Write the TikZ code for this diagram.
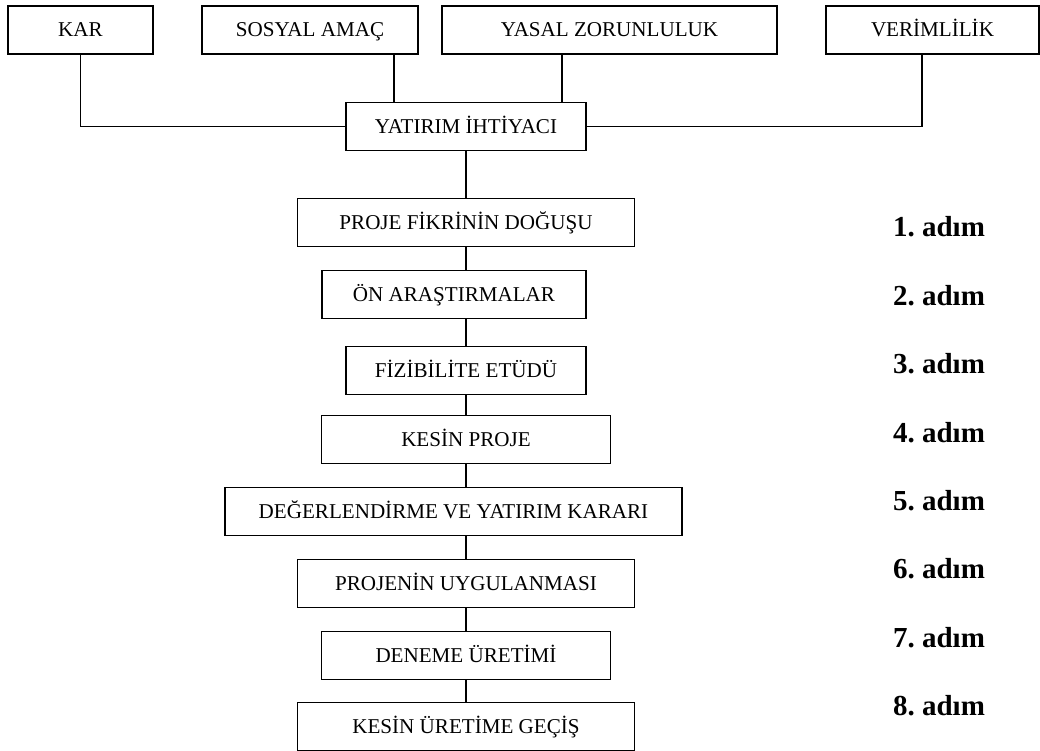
\documentclass[tikz,border=0pt]{standalone}
\usepackage{fontspec}
\setmainfont{Liberation Serif}
\usepackage{tikz}
\usetikzlibrary{positioning}
\frenchspacing

\begin{document}
\begin{tikzpicture}[
  box/.style={draw=black, line width=0.8pt, align=center, minimum height=9.6mm,
              inner sep=1mm, outer sep=0pt, text height=9.9pt, text depth=2pt,
              font=\fontsize{12}{14}\selectfont},
  stepnum/.style={font=\fontsize{16.5}{18}\selectfont\bfseries, inner sep=0pt},
  link/.style={line width=0.8pt, draw=black}
]
\useasboundingbox (0,0) rectangle (208mm,-150.2mm);
% sources of the need
\node[box, minimum width=29mm] (kar) at (16.1mm,-6mm) {KAR};
\node[box, minimum width=43.2mm] (sosyal) at (62mm,-6mm) {SOSYAL AMAÇ};
\node[box, minimum width=67mm] (yasal) at (121.9mm,-6mm) {YASAL ZORUNLULUK};
\node[box, minimum width=42.6mm] (verim) at (186.5mm,-6mm) {VERİMLİLİK};
\node[box, minimum width=48mm] (ihtiyac) at (93.2mm,-25.3mm) {YATIRIM İHTİYACI};
% steps
\node[box, minimum width=67.4mm, below=9.6mm of ihtiyac] (fikir) {PROJE FİKRİNİN DOĞUŞU};
\node[box, minimum width=52.8mm, below=4.8mm of fikir, xshift=-2.4mm] (on) {ÖN ARAŞTIRMALAR};
\node[box, minimum width=48mm, below=5.6mm of on, xshift=2.4mm] (fiz) {FİZİBİLİTE ETÜDÜ};
\node[box, minimum width=57.8mm, below=4.2mm of fiz] (kesin) {KESİN PROJE};
\node[box, minimum width=91.4mm, below=4.8mm of kesin, xshift=-2.5mm] (deger) {DEĞERLENDİRME VE YATIRIM KARARI};
\node[box, minimum width=67.4mm, below=4.8mm of deger, xshift=2.5mm] (uygula) {PROJENİN UYGULANMASI};
\node[box, minimum width=57.8mm, below=4.8mm of uygula] (deneme) {DENEME ÜRETİMİ};
\node[box, minimum width=67.4mm, below=4.6mm of deneme] (uretim) {KESİN ÜRETİME GEÇİŞ};
% step numbers
\foreach \i in {1,...,8}
  \node[stepnum] (adim\i) at (187.8mm,{-(45.4+13.68*(\i-1))*1mm}) {\i. adım};
% connectors
\draw[link] (kar.south) |- (ihtiyac.west);
\draw[link] ([xshift=16.8mm]sosyal.south) -- ([xshift=16.8mm]sosyal.south |- ihtiyac.north);
\draw[link] ([xshift=-9.5mm]yasal.south) -- ([xshift=-9.5mm]yasal.south |- ihtiyac.north);
\draw[link] ([xshift=-2.1mm]verim.south) |- (ihtiyac.east);
\draw[link] (ihtiyac) -- (fikir);
\draw[link] (fikir.south) -- (fikir.south |- on.north);
\draw[link] (fiz.north |- on.south) -- (fiz.north);
\draw[link] (fiz) -- (kesin);
\draw[link] (kesin.south) -- (kesin.south |- deger.north);
\draw[link] (uygula.north |- deger.south) -- (uygula.north);
\draw[link] (uygula) -- (deneme);
\draw[link] (deneme) -- (uretim);
\end{tikzpicture}
\end{document}
